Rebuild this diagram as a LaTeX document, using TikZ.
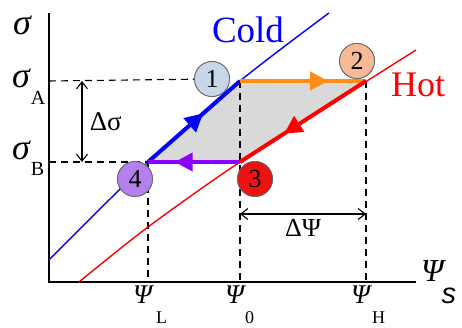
\documentclass[tikz,border=0pt]{standalone}
\usepackage{fontspec}
\setmainfont{Liberation Serif}
\setsansfont{Liberation Sans}
\usetikzlibrary{arrows.meta,decorations.markings}

\definecolor{orng}{RGB}{255,140,20}
\definecolor{purp}{RGB}{140,0,255}
\definecolor{fillone}{RGB}{200,214,234}
\definecolor{filltwo}{RGB}{248,185,150}
\definecolor{fillthree}{RGB}{238,18,18}
\definecolor{fillfour}{RGB}{180,128,240}
\definecolor{cyclegray}{RGB}{217,217,217}

\newcommand{\fs}[1]{\fontsize{#1}{#1}\selectfont}

\begin{document}
\begin{tikzpicture}[x=1pt,y=1pt,
  state/.style={circle,draw=black!60,line width=0.8pt,minimum size=35pt,inner sep=0pt,font=\fs{26}},
  guide/.style={dash pattern=on 7pt off 5pt,line width=1.1pt},
  branch/.style={line width=4pt},
  curve/.style={line width=1.4pt},
  dimline/.style={line width=1.1pt,{Straight Barb[length=7pt,width=11pt]}-{Straight Barb[length=7pt,width=11pt]}},
  midarrow/.style={postaction={decorate},decoration={markings,mark=at position #1 with {\arrow{Triangle[length=18pt,width=18pt]}}}}]
\useasboundingbox (0,0) rectangle (462,328);

% corners of the cycle
\coordinate (P1) at (240,247);
\coordinate (P2) at (366,247);
\coordinate (P3) at (240,166);
\coordinate (P4) at (148,166);
\coordinate (O) at (49,46);
\coordinate (Ytop) at (49,315);
\coordinate (Xend) at (416,46);
\coordinate (SA) at (49,247);
\coordinate (SB) at (49,166);
\coordinate (FL) at (148,46);
\coordinate (F0) at (240,46);
\coordinate (FH) at (366,46);

\fill[cyclegray] (P4) -- (P1) -- (P2) -- (P3) -- cycle;

% axes
\draw[line width=1.5pt] (Ytop) -- (O) -- (Xend);

% circles
\node[state,fill=fillone] (n1) at (212,249) {1};
\node[state,fill=filltwo] (n2) at (357,267) {2};
\node[state,fill=fillthree] (n3) at (255,149) {3};
\node[state,fill=fillfour] (n4) at (135,149) {4};

% guide lines
\draw[guide] (SA) -- (n1);
\draw[guide] (SB) -- (P4);
\draw[guide] (P4) -- (FL);
\draw[guide] (P1) -- (F0);
\draw[guide] (P2) -- (FH);

% state lines
\draw[curve,blue] plot[smooth] coordinates {(49,68) (148,166) (240,247) (329,315)};
\draw[curve,red] plot[smooth] coordinates {(79,46) (148,101) (240,166) (367,247) (416,278)};

% cycle
\draw[branch,blue,midarrow=0.6] (P4) -- (P1);
\draw[branch,orng,midarrow=0.7] (P1) -- (P2);
\draw[branch,red,midarrow=0.65] (P2) -- (P3);
\draw[branch,purp,midarrow=0.71] (P3) -- (P4);

% redraw circles on top
\node[state,fill=fillone] at (n1) {1};
\node[state,fill=filltwo] at (n2) {2};
\node[state,fill=fillthree] at (n3) {3};
\node[state,fill=fillfour] at (n4) {4};

% differences
\coordinate (DA) at (82,247);
\coordinate (DB) at (82,166);
\draw[dimline] (DA) -- (DB) node[midway,right=4pt,font=\fs{27}] (dsig) {Δσ};
\coordinate (DL) at (240,114);
\coordinate (DR) at (366,114);
\draw[dimline] (DL) -- (DR) node[midway,below=1pt,font=\fs{26}] (dpsi) {ΔΨ};

% labels
\node[text=blue,font=\fs{37}] (cold) at (248,298) {Cold};
\node[text=red,font=\fs{36}] (hot) at (418,243) {Hot};
\node[font=\fs{36}\itshape] (sig) at (22,303) {σ};
\node[anchor=base west,inner sep=0pt] (sigA) at (12,240) {\fs{36}\itshape σ\kern1pt\raisebox{-17pt}{\fs{20}\upshape A}};
\node[anchor=base west,inner sep=0pt] (sigB) at (12,168) {\fs{36}\itshape σ\kern1pt\raisebox{-16pt}{\fs{20}\upshape B}};
\node[anchor=base west,inner sep=0pt] (psiL) at (133,24) {\fs{27}\itshape Ψ\kern4pt\raisebox{-20pt}{\fs{18}\upshape L}};
\node[anchor=base west,inner sep=0pt] (psi0) at (225,24) {\fs{27}\itshape Ψ\kern1pt\raisebox{-20pt}{\fs{18}\upshape 0}};
\node[anchor=base west,inner sep=0pt] (psiH) at (351,24) {\fs{27}\itshape Ψ\kern2pt\raisebox{-20pt}{\fs{18}\upshape H}};
\node[anchor=base west,inner sep=0pt] (psiS) at (421,46) {\fs{32}\itshape Ψ\kern-2pt\raisebox{-22pt}{\fs{29}\sffamily\itshape s}};
\end{tikzpicture}
\end{document}
